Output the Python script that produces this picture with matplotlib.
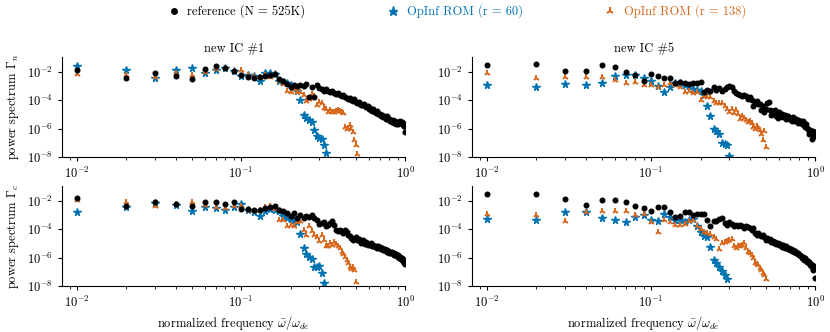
import numpy as np
import matplotlib
matplotlib.use("Agg")
import matplotlib.pyplot as plt
from matplotlib.ticker import LogLocator, NullFormatter

plt.rcParams["font.family"] = "cmr10"
plt.rcParams["mathtext.fontset"] = "cm"
plt.rcParams["axes.formatter.use_mathtext"] = True
plt.rcParams["font.size"] = 9

# normalized frequency grid (0.01 ... 1.00)
freq = np.round(np.arange(1, 101) * 0.01, 2)

# log10 of the power spectra
# --- Gamma_n, new IC #1
ref_n1 = [-1.88, -2.42, -2.07, -2.33, -2.53, -1.84, -1.58, -1.77, -1.95, -2.23,
          -2.40, -2.47, -2.35, -2.28, -2.21, -2.16, -2.50, -2.63, -2.86, -3.05,
          -2.93, -2.98, -2.93, -2.98, -2.86, -3.79, -3.09, -3.79, -2.91, -3.14,
          -3.21, -3.33, -3.23, -3.37, -3.44, -3.35, -3.50, -3.58, -3.52, -3.67,
          -3.72, -3.62, -3.80, -3.88, -3.90, -3.82, -4.00, -4.08, -3.95, -4.14,
          -4.20, -4.10, -4.28, -4.35, -4.37, -4.25, -4.45, -4.52, -4.40, -4.60,
          -4.55, -4.70, -4.78, -4.62, -4.84, -4.90, -4.75, -4.95, -5.00, -4.95,
          -5.10, -5.05, -5.20, -5.15, -5.19, -5.30, -5.10, -5.35, -5.25, -5.30,
          -5.45, -5.38, -5.55, -5.42, -5.53, -5.60, -5.48, -5.70, -5.58, -5.65,
          -5.55, -5.62, -5.50, -5.58, -5.53, -5.70, -5.60, -5.85, -5.80, -6.23]
r60_n1 = [-1.63, -1.86, -2.42, -1.86, -1.77, -2.07, -1.88, -1.74, -1.93, -2.28,
          -2.21, -2.28, -2.63, -2.09, -2.09, -2.16, -2.63, -2.74, -2.81, -2.93,
          -3.09, -3.33, -4.02, -5.07, -5.23, -5.37, -5.53, -6.07, -6.53, -6.63,
          -6.70, -7.16, -7.70]
r138_n1 = [-2.16, -2.21, -2.35, -2.09, -2.21, -2.00, -1.81, -1.74, -1.93, -1.88,
           -2.21, -2.28, -2.40, -2.21, -2.40, -2.16, -2.63, -2.86, -3.37, -3.40,
           -3.21, -3.44, -3.40, -3.67, -4.07, -3.91, -3.56, -3.74, -4.37, -4.14,
           -4.21, -4.53, -4.65, -4.84, -4.72, -4.84, -4.84, -4.79, -4.72, -4.77,
           -4.84, -4.91, -5.88, -6.00, -5.93, -5.77, -6.00, -6.23, -6.81, -7.16,
           -7.79]

# --- Gamma_n, new IC #5
ref_n5 = [-1.53, -1.49, -1.93, -1.98, -1.56, -1.65, -2.05, -2.21, -2.67, -2.16,
          -2.33, -2.47, -2.47, -2.79, -2.74, -2.79, -2.86, -2.79, -2.81, -2.74,
          -3.44, -3.28, -3.33, -3.09, -3.28, -3.14, -3.33, -3.21, -3.09, -2.98,
          -3.09, -3.33, -3.49, -3.56, -3.67, -3.74, -3.67, -3.74, -3.91, -3.79,
          -4.02, -4.44, -4.14, -4.07, -4.30, -4.30, -4.72, -4.44, -4.84, -4.60,
          -4.21, -4.14, -4.67, -5.07, -4.79, -4.95, -4.72, -5.14, -5.23, -4.84,
          -5.00, -5.10, -4.95, -5.20, -5.05, -5.30, -5.15, -5.10, -5.35, -5.25,
          -5.30, -5.45, -5.20, -5.40, -5.50, -5.35, -5.45, -5.60, -5.40, -5.50,
          -5.55, -5.45, -5.65, -5.50, -5.60, -5.75, -5.90, -5.70, -5.95, -6.05,
          -6.40, -6.20, -6.10, -6.35, -6.70, -6.25, -6.15, -6.45, -6.30, -6.55]
r60_n5 = [-2.91, -3.09, -2.86, -2.91, -2.79, -2.33, -2.23, -2.23, -2.44, -2.63,
          -2.98, -3.44, -3.09, -2.81, -2.81, -2.91, -2.98, -3.21, -3.28, -3.37,
          -3.67, -4.44, -5.14, -6.00, -6.16, -6.40, -7.05, -7.10, -7.16, -7.93]
r138_n5 = [-2.12, -2.47, -2.35, -2.35, -2.35, -2.58, -2.79, -2.74, -2.91, -2.93,
           -3.05, -2.91, -2.81, -2.91, -3.05, -3.44, -3.33, -3.51, -3.44, -3.98,
           -3.74, -3.79, -3.79, -4.07, -4.21, -4.21, -4.21, -4.44, -4.60, -4.84,
           -4.60, -4.91, -4.72, -5.00, -5.30, -5.14, -5.23, -5.37, -5.53, -5.47,
           -5.60, -5.88, -6.00, -5.84, -5.93, -6.07, -6.35, -6.80, -6.20, -7.33]

# --- Gamma_c, new IC #1
ref_c1 = [-1.81, -2.35, -2.12, -2.24, -2.40, -2.09, -2.09, -2.24, -2.12, -2.56,
          -2.59, -2.68, -2.68, -2.52, -2.45, -2.40, -2.64, -2.75, -2.87, -3.06,
          -2.87, -3.22, -2.99, -3.22, -3.06, -3.18, -3.04, -3.22, -3.34, -3.65,
          -3.58, -3.53, -3.81, -3.69, -3.58, -3.46, -3.69, -4.05, -4.16, -4.05,
          -4.24, -4.28, -4.09, -4.24, -4.40, -4.52, -4.64, -4.75, -4.71, -4.56,
          -4.75, -4.70, -4.85, -4.95, -4.80, -4.98, -5.05, -4.92, -5.10, -5.05,
          -5.15, -5.00, -5.20, -5.12, -5.25, -5.18, -5.30, -5.22, -5.35, -5.28,
          -5.40, -5.30, -5.45, -5.50, -5.38, -5.55, -5.48, -5.60, -5.52, -5.65,
          -5.58, -5.70, -5.62, -5.75, -5.68, -5.80, -5.85, -5.75, -5.90, -5.85,
          -5.98, -6.05, -5.95, -6.10, -6.15, -6.05, -6.25, -6.20, -6.35, -6.45]
r60_c1 = [-2.80, -2.47, -2.16, -2.28, -2.71, -2.47, -2.52, -2.68, -2.47, -2.21,
          -2.64, -2.80, -3.06, -2.71, -2.59, -2.64, -2.75, -3.06, -3.22, -3.29,
          -3.39, -3.53, -4.33, -5.34, -5.74, -5.98, -6.12, -6.68, -6.68, -6.59,
          -7.11, -7.81]
r138_c1 = [-1.98, -2.09, -2.40, -2.24, -2.12, -2.33, -2.45, -2.52, -2.35, -2.40,
           -2.64, -2.75, -2.68, -2.45, -2.40, -2.59, -3.34, -3.39, -3.76, -3.69,
           -3.81, -3.53, -3.46, -4.05, -4.40, -3.81, -4.16, -4.40, -4.56, -4.87,
           -4.40, -4.75, -5.22, -5.18, -4.99, -5.11, -4.94, -5.04, -5.22, -5.34,
           -5.58, -5.74, -5.98, -6.16, -6.40, -6.64, -6.82, -6.68, -6.87, -7.69]

# --- Gamma_c, new IC #5
ref_c5 = [-1.53, -1.55, -1.88, -2.28, -1.98, -1.93, -2.12, -2.35, -2.55, -2.71,
          -2.47, -2.47, -2.80, -3.15, -3.11, -2.82, -2.82, -2.99, -2.94, -2.94,
          -2.92, -3.34, -3.81, -3.46, -3.41, -3.29, -3.22, -3.58, -3.69, -3.53,
          -3.65, -3.76, -3.69, -3.81, -3.69, -3.81, -3.93, -3.81, -3.86, -3.93,
          -4.05, -3.93, -4.28, -4.40, -4.28, -4.40, -4.52, -4.40, -4.56, -4.75,
          -4.65, -4.80, -4.70, -4.90, -4.85, -5.00, -4.90, -5.05, -4.95, -5.10,
          -5.05, -5.15, -5.25, -5.10, -5.30, -5.20, -5.35, -5.40, -5.30, -5.45,
          -5.40, -5.55, -5.50, -5.60, -5.55, -5.70, -5.65, -5.75, -5.70, -5.85,
          -5.80, -5.90, -6.00, -5.95, -6.05, -6.15, -6.05, -6.20, -6.30, -6.25,
          -6.40, -6.30, -6.55, -6.45, -6.70, -6.50, -6.85, -6.60, -6.70, -7.46]
r60_c5 = [-3.29, -3.39, -2.80, -2.80, -3.22, -3.34, -3.51, -3.15, -3.04, -3.39,
          -3.41, -2.94, -3.15, -3.34, -3.39, -3.53, -3.39, -3.29, -3.81, -4.24,
          -4.47, -4.56, -5.29, -6.16, -6.40, -6.68, -6.92, -7.22, -7.53]
r138_c5 = [-2.94, -2.99, -3.46, -2.82, -2.75, -2.75, -2.75, -2.99, -2.94, -3.53,
           -4.21, -3.39, -3.53, -3.69, -3.69, -3.65, -3.46, -3.39, -3.76, -4.00,
           -4.24, -4.28, -4.33, -4.56, -4.71, -5.41, -4.99, -4.94, -4.87, -4.80,
           -4.71, -5.22, -5.34, -5.22, -5.18, -5.11, -4.99, -5.34, -5.58, -5.69,
           -5.81, -6.05, -6.35, -6.45, -6.52, -6.75, -6.87, -7.11, -7.22, -7.53]

titles = ["new IC #1", "new IC #5"]
ylabels = [r"power spectrum $\Gamma_n$", r"power spectrum $\Gamma_c$"]
panels = [[(ref_n1, r60_n1, r138_n1), (ref_n5, r60_n5, r138_n5)],
          [(ref_c1, r60_c1, r138_c1), (ref_c5, r60_c5, r138_c5)]]

c_ref = "black"
c_r60 = "#0173b2"
c_r138 = "#d8661a"

fig = plt.figure(figsize=(8.3, 3.32), dpi=100)
lefts = [0.0747, 0.5687]
bottoms = [0.5271, 0.1386]
w, h = 0.4135, 0.300

for i in range(2):
    for j in range(2):
        ax = fig.add_axes([lefts[j], bottoms[i], w, h])
        ref, r60, r138 = panels[i][j]
        ax.plot(freq, 10.0 ** np.array(ref), ls="none", marker="o", ms=3.3,
                color=c_ref, label="reference (N = 525K)", zorder=3)
        ax.plot(freq[:len(r60)], 10.0 ** np.array(r60), ls="none", marker="*",
                ms=5.5, color=c_r60, label="OpInf ROM (r = 60)", zorder=2)
        ax.plot(freq[:len(r138)], 10.0 ** np.array(r138), ls="none", marker="2",
                ms=4.5, mew=1.4, color=c_r138, label="OpInf ROM (r = 138)", zorder=2)
        ax.set_xscale("log")
        ax.set_yscale("log")
        ax.set_xlim(0.0081, 1.0)
        ax.set_ylim(1e-8, 1e-1)
        ax.set_yticks([1e-8, 1e-6, 1e-4, 1e-2])
        ax.yaxis.set_minor_locator(plt.NullLocator())
        ax.xaxis.set_major_locator(LogLocator(base=10, numticks=5))
        ax.xaxis.set_minor_locator(LogLocator(base=10, subs=np.arange(2, 10), numticks=20))
        ax.xaxis.set_minor_formatter(NullFormatter())
        ax.tick_params(labelsize=9, length=3, width=0.8)
        ax.tick_params(which="minor", length=2, width=0.6)
        for s in ["top", "right"]:
            ax.spines[s].set_visible(False)
        if i == 0:
            ax.set_title(titles[j], fontsize=9, pad=4)
        else:
            ax.set_xlabel(r"normalized frequency $\bar{\omega}/\omega_{de}$", fontsize=9,
                          labelpad=3)
        if j == 0:
            ax.set_ylabel(ylabels[i], fontsize=9)
        if i == 0 and j == 0:
            handles, labels = ax.get_legend_handles_labels()

leg = fig.legend(handles, labels, loc="upper center", bbox_to_anchor=(0.549, 1.02),
                 ncol=3, frameon=False, fontsize=9, handlelength=1.4,
                 handletextpad=0.4, columnspacing=6.3, markerscale=1.2)
for t, c in zip(leg.get_texts(), [c_ref, c_r60, c_r138]):
    t.set_color(c)

fig.savefig("out.png", dpi=100)
